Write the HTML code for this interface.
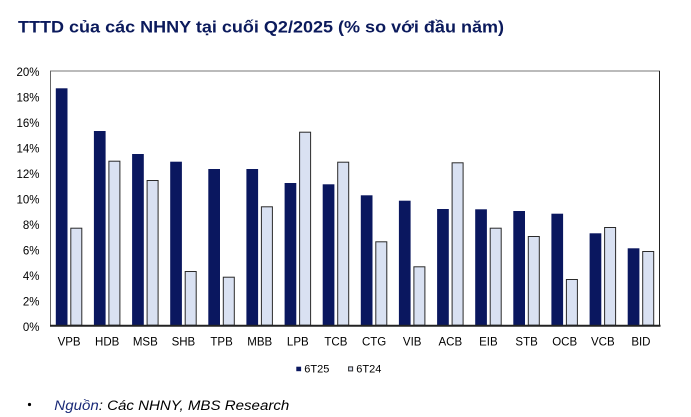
<!DOCTYPE html>
<html>
<head>
<meta charset="utf-8">
<style>
  html, body { margin:0; padding:0; background:#ffffff; }
  body { width:691px; height:417px; overflow:hidden; }
  svg { display:block; }
  text { font-family: "Liberation Sans", Arial, sans-serif; }
</style>
</head>
<body>
<svg width="691" height="417" viewBox="0 0 691 417" xmlns="http://www.w3.org/2000/svg">
  <rect width="691" height="417" fill="#ffffff"/>
  <!-- Title -->
  <text x="18" y="32.3" font-size="17" font-weight="bold" fill="#0b1a5c" textLength="486" lengthAdjust="spacingAndGlyphs">TTTD của các NHNY tại cuối Q2/2025 (% so với đầu năm)</text>

  <!-- Plot frame -->
  <line x1="50" y1="71" x2="660" y2="71" stroke="#777" stroke-width="1"/>
  <line x1="50.5" y1="71" x2="50.5" y2="326" stroke="#666" stroke-width="1"/>
  <line x1="659.5" y1="71" x2="659.5" y2="326" stroke="#222" stroke-width="1"/>

  <!-- Y tick labels -->
  <g font-size="11.5" fill="#000" text-anchor="end">
    <text x="39.5" y="76">20%</text>
    <text x="39.5" y="101.5">18%</text>
    <text x="39.5" y="127">16%</text>
    <text x="39.5" y="152.5">14%</text>
    <text x="39.5" y="178">12%</text>
    <text x="39.5" y="203.5">10%</text>
    <text x="39.5" y="229">8%</text>
    <text x="39.5" y="254.5">6%</text>
    <text x="39.5" y="280">4%</text>
    <text x="39.5" y="305.5">2%</text>
    <text x="39.5" y="331">0%</text>
  </g>

  <!-- Bars -->
  <g id="bars"></g>
  <g fill="#0a175f">
    <rect x="55.8" y="88.3" width="11.7" height="237.2"/>
    <rect x="93.9" y="131" width="11.7" height="194.5"/>
    <rect x="132.1" y="154" width="11.7" height="171.5"/>
    <rect x="170.2" y="161.7" width="11.7" height="163.8"/>
    <rect x="208.3" y="169" width="11.7" height="156.5"/>
    <rect x="246.4" y="169" width="11.7" height="156.5"/>
    <rect x="284.6" y="183" width="11.7" height="142.5"/>
    <rect x="322.7" y="184.3" width="11.7" height="141.2"/>
    <rect x="360.8" y="195.3" width="11.7" height="130.2"/>
    <rect x="398.9" y="200.7" width="11.7" height="124.8"/>
    <rect x="437.1" y="209" width="11.7" height="116.5"/>
    <rect x="475.2" y="209.3" width="11.7" height="116.2"/>
    <rect x="513.3" y="211" width="11.7" height="114.5"/>
    <rect x="551.4" y="213.7" width="11.7" height="111.8"/>
    <rect x="589.6" y="233.3" width="11.7" height="92.2"/>
    <rect x="627.7" y="248.3" width="11.7" height="77.2"/>
  </g>
  <g fill="#d9e1f2" stroke="#2a2a2a" stroke-width="1">
    <rect x="70.8" y="228.2" width="11" height="97"/>
    <rect x="108.9" y="161.2" width="11" height="164"/>
    <rect x="147.1" y="180.5" width="11" height="144.7"/>
    <rect x="185.2" y="271.5" width="11" height="53.7"/>
    <rect x="223.3" y="277.2" width="11" height="48"/>
    <rect x="261.4" y="206.8" width="11" height="118.4"/>
    <rect x="299.6" y="132.2" width="11" height="193"/>
    <rect x="337.7" y="162.2" width="11" height="163"/>
    <rect x="375.8" y="241.8" width="11" height="83.4"/>
    <rect x="413.9" y="266.8" width="11" height="58.4"/>
    <rect x="452.1" y="162.8" width="11" height="162.4"/>
    <rect x="490.2" y="228.2" width="11" height="97"/>
    <rect x="528.3" y="236.5" width="11" height="88.7"/>
    <rect x="566.4" y="279.5" width="11" height="45.7"/>
    <rect x="604.6" y="227.5" width="11" height="97.7"/>
    <rect x="642.7" y="251.5" width="11" height="73.7"/>
  </g>

  <!-- X axis -->
  <line x1="50" y1="325.7" x2="660.5" y2="325.7" stroke="#222" stroke-width="2"/>

  <!-- X labels -->
  <g font-size="11.5" fill="#000" text-anchor="middle">
    <text x="69.1" y="345.5">VPB</text>
    <text x="107.2" y="345.5">HDB</text>
    <text x="145.3" y="345.5">MSB</text>
    <text x="183.4" y="345.5">SHB</text>
    <text x="221.6" y="345.5">TPB</text>
    <text x="259.7" y="345.5">MBB</text>
    <text x="297.8" y="345.5">LPB</text>
    <text x="335.9" y="345.5">TCB</text>
    <text x="374.1" y="345.5">CTG</text>
    <text x="412.2" y="345.5">VIB</text>
    <text x="450.3" y="345.5">ACB</text>
    <text x="488.4" y="345.5">EIB</text>
    <text x="526.6" y="345.5">STB</text>
    <text x="564.7" y="345.5">OCB</text>
    <text x="602.8" y="345.5">VCB</text>
    <text x="640.9" y="345.5">BID</text>
  </g>

  <!-- Legend -->
  <rect x="296.3" y="366.7" width="4.8" height="4.5" fill="#0a175f"/>
  <text x="304.3" y="372.5" font-size="11" fill="#000">6T25</text>
  <rect x="348.6" y="366.9" width="4" height="4" fill="#d9e1f2" stroke="#2a2a2a" stroke-width="1"/>
  <text x="356.3" y="372.5" font-size="11" fill="#000">6T24</text>

  <!-- Source -->
  <circle cx="29.5" cy="404.5" r="1.6" fill="#000"/>
  <text x="54.3" y="410" font-size="13.5" font-style="italic" fill="#000" textLength="235" lengthAdjust="spacingAndGlyphs"><tspan fill="#1a2a78">Nguồn</tspan>: Các NHNY, MBS Research</text>
</svg>
</body>
</html>
